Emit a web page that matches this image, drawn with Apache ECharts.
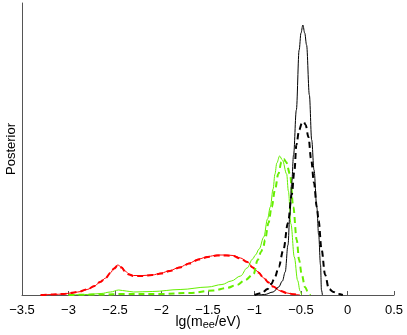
<!DOCTYPE html>
<html lang="en">

<head>
  <meta charset="UTF-8">
  <title>Posterior</title>
  <script src="https://cdn.jsdelivr.net/npm/echarts@6/dist/echarts.min.js"></script>
  <style>
    html,
    body {
      margin: 0;
      padding: 0;
      background: #fff;
    }

    #chart {
      width: 407px;
      height: 335px;
    }
  </style>
</head>

<body>
  <div id="chart"></div>
  <script>
    // values (x = lg(m/eV), y = posterior, arbitrary units)
    var redX = [-3.3, -3.17, -3.05, -2.98, -2.9, -2.8, -2.72, -2.66, -2.6, -2.55, -2.51, -2.47, -2.43, -2.39, -2.35, -2.3, -2.2, -2.1, -2.0, -1.91, -1.8, -1.7, -1.6, -1.5, -1.4, -1.3, -1.23, -1.15, -1.08, -1.02, -0.96, -0.9, -0.85, -0.8, -0.72, -0.65, -0.58, -0.51]
    var redSolid = [0, 0.5, 1, 2, 3, 5.5, 9, 13, 17, 22, 27, 30, 28, 24, 21, 19.5, 19.5, 20, 22, 24.5, 28, 32, 36, 38.5, 40, 40, 39.5, 37, 33.5, 28, 23, 17, 13, 8.5, 4, 2, 0.8, 0]
    var redDashed = [0, 0.5, 1, 2, 3, 5.5, 9, 13, 17, 22, 26.5, 29.5, 27.5, 23.5, 20.5, 19, 19, 20, 21.5, 24, 27.5, 31.5, 35.5, 38, 39.5, 39.5, 39, 36.5, 33, 27.5, 22.5, 17, 12.5, 8.5, 4, 2, 0.8, 0]

    var greenSolidX = [-3.0, -2.8, -2.65, -2.55, -2.46, -2.38, -2.3, -2.1, -1.8, -1.5, -1.35, -1.25, -1.15, -1.08, -1.02, -0.99, -0.95, -0.9, -0.86, -0.83, -0.8, -0.78, -0.76, -0.73, -0.7, -0.654, -0.636, -0.608, -0.572, -0.536, -0.51, -0.493]
    var greenSolid = [0, 0.5, 1.5, 3, 5, 4, 3, 3.5, 5.5, 8, 10.5, 14, 19, 27, 36, 40, 46, 58, 76, 88, 106, 121, 132, 139, 135, 121, 104, 71, 38, 14.5, 4, 0]
    var greenDashedX = [-3.0, -2.6, -2.45, -2.0, -1.7, -1.44, -1.3, -1.19, -1.1, -1.01, -0.966, -0.93, -0.905, -0.887, -0.85, -0.815, -0.78, -0.744, -0.71, -0.685, -0.66, -0.618, -0.583, -0.546, -0.52, -0.493, -0.457, -0.42, -0.4]
    var greenDashed = [0, 0.5, 1, 1, 2, 4.5, 7, 10, 15, 21, 35, 43, 48, 55, 72, 88, 105, 121, 133, 136, 133, 121, 88, 55, 35, 21, 8, 2, 0]

    var blackSolidX = [-0.95, -0.89, -0.8, -0.74, -0.7, -0.67, -0.64, -0.62, -0.6, -0.58, -0.55, -0.52, -0.5, -0.48, -0.46, -0.44, -0.41, -0.385, -0.36, -0.33, -0.31, -0.29, -0.28, -0.27]
    var blackSolid = [0, 0.5, 3, 8, 14, 23, 50, 80, 112, 140, 185, 245, 262, 270, 262, 250, 200, 155, 125, 88, 60, 30, 5, 0]
    var blackDashedX = [-1.0, -0.92, -0.86, -0.82, -0.78, -0.74, -0.69, -0.64, -0.6, -0.57, -0.55, -0.52, -0.49, -0.47, -0.45, -0.42, -0.39, -0.36, -0.33, -0.31, -0.28, -0.24, -0.2, -0.15, -0.1, -0.05]
    var blackDashed = [0, 2, 6, 11, 18, 28, 45, 72, 100, 125, 150, 165, 172, 173, 170, 158, 135, 112, 88, 74, 46, 20, 6, 3, 1, 0]

    var xTicks = [-3.5, -3, -2.5, -2, -1.5, -1, -0.5, 0, 0.5]

    function pairs(xs, ys) {
      return xs.map(function (x, i) { return [x, ys[i]] })
    }

    function curve(name, xs, ys, color, width, dashed) {
      return {
        name: name,
        type: 'line',
        data: pairs(xs, ys),
        showSymbol: false,
        smooth: 0.35,
        smoothMonotone: 'x',
        silent: true,
        lineStyle: {
          color: color,
          width: width,
          type: dashed ? [6, 4] : 'solid'
        }
      }
    }

    var green = '#66ee00'
    var myChart = echarts.init(document.getElementById('chart'), null, { renderer: 'canvas' })
    var option = {
      animation: false,
      // fixed plot box, labels may hang outside it
      grid: { left: 22, right: 13, top: 3, bottom: 40, containLabel: false, outerBoundsMode: 'none' },
      xAxis: {
        type: 'value',
        min: xTicks[0],
        max: xTicks[xTicks.length - 1],
        interval: 0.5,
        splitLine: { show: false },
        axisLine: { onZero: false, lineStyle: { color: '#555', width: 1 } },
        axisTick: { inside: true, length: 4, lineStyle: { color: '#555' } },
        axisLabel: {
          color: '#000',
          fontFamily: 'Liberation Sans',
          fontSize: 13,
          margin: 9,
          formatter: function (v) { return String(v).replace('-', '\u2212') }
        },
        name: '{a|lg(m}{s|ee}{a|/eV)}',
        nameLocation: 'middle',
        nameGap: 20,
        nameMoveOverlap: false,
        nameTextStyle: {
          rich: {
            a: { fontFamily: 'Liberation Sans', fontSize: 14, color: '#000', lineHeight: 15, verticalAlign: 'top' },
            s: { fontFamily: 'Liberation Sans', fontSize: 11, color: '#000', lineHeight: 11, verticalAlign: 'bottom', padding: [12, 0, 0, 0] }
          }
        }
      },
      yAxis: {
        type: 'value',
        min: 0,
        max: 292,
        splitLine: { show: false },
        axisLine: { show: true, onZero: false, lineStyle: { color: '#555', width: 1 } },
        axisTick: { show: false },
        axisLabel: { show: false },
        name: 'Posterior',
        nameLocation: 'middle',
        nameGap: 4,
        nameRotate: 90,
        nameMoveOverlap: false,
        nameTextStyle: { fontFamily: 'Liberation Sans', fontSize: 13, color: '#000' }
      },
      series: [
        curve('red dashed', redX, redDashed, '#ff0000', 2, true),
        curve('red', redX, redSolid, '#ff0000', 1, false),
        curve('green dashed', greenDashedX, greenDashed, green, 2, true),
        curve('green', greenSolidX, greenSolid, green, 1, false),
        curve('black dashed', blackDashedX, blackDashed, '#000', 2, true),
        curve('black', blackSolidX, blackSolid, '#000', 1, false)
      ]
    }
    myChart.setOption(option)
  </script>
</body>

</html>
